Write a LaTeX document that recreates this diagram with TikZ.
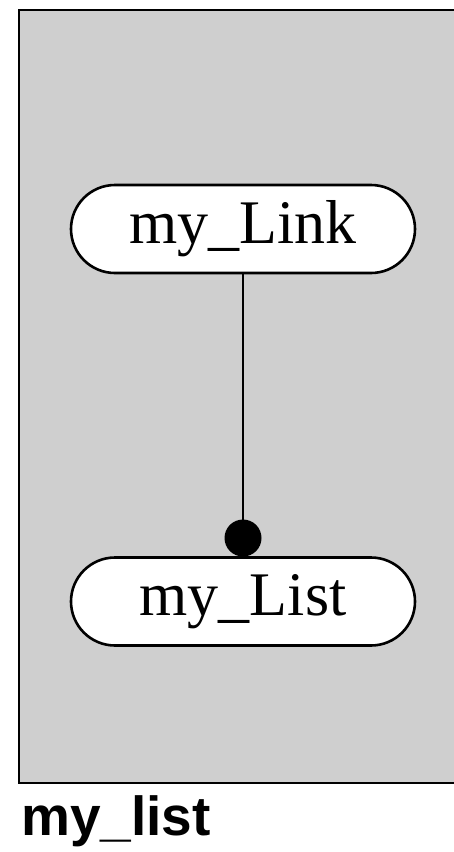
\documentclass[tikz,border=0pt]{standalone}
\usepackage{fontspec}
\setmainfont{Liberation Serif}
\newfontfamily\capfont{Liberation Sans}
\begin{document}
\begin{tikzpicture}[x=1bp,y=-1bp,
  classbox/.style={draw=black, line width=2.6bp, fill=white, rounded corners=44bp,
    minimum width=344bp, minimum height=88bp, inner sep=0pt,
    text height=41bp, text depth=13bp,
    font=\fontsize{62bp}{70bp}\selectfont},
  assocdot/.style={circle, fill=black, draw=none, minimum size=37bp, inner sep=0pt},
  conn/.style={draw=black, line width=1.8bp},
  frameline/.style={draw=black, line width=2.8bp},
  captext/.style={anchor=base west, inner sep=0pt, font=\capfont\bfseries\fontsize{55bp}{60bp}\selectfont}]
\useasboundingbox (0,0) rectangle (454,852);
\fill[black!19] (19,10) rectangle (454,783);
\draw[frameline] (454,10) -- (19,10) -- (19,783) -- (454,783);
\node[classbox] (link) at (243,229) {my\_Link};
\node[classbox] (list) at (243,601.5) {my\_List};
\node[assocdot] (dot) at (243,538) {};
\draw[conn] (link.south) -- (dot.center);
\node[captext] (cap) at (21,835) {my\_list};
\end{tikzpicture}
\end{document}
